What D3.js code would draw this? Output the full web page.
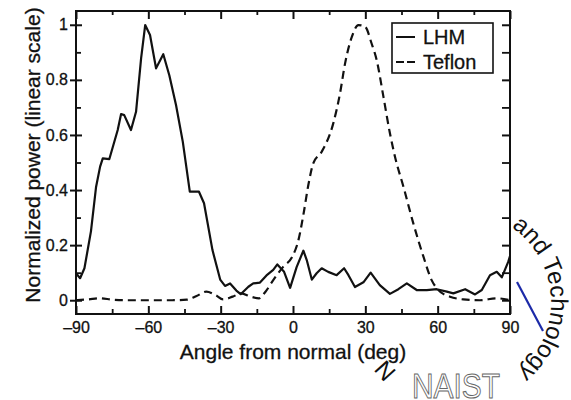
<!DOCTYPE html>
<html>
<head>
<meta charset="utf-8">
<script src="https://cdn.jsdelivr.net/npm/d3@7"></script>
<style>
  body { margin: 0; background: #fff; }
  svg text { font-family: "Liberation Sans", Arial, Helvetica, sans-serif; }
</style>
</head>
<body>
<svg id="chart" width="571" height="400"></svg>
<script>
// values
var lhmAngle = [-90, -88.3, -86.5, -83.8, -81.7, -80, -78.9, -76.2, -72.7, -71.3, -70, -67.2, -65.1, -63, -61.3,
  -59.3, -56.8, -53.8, -51.3, -48.5, -45.7, -42.8, -39, -36.9, -33.4, -30.2, -28.2, -26.1, -23.5, -21.7, -18.5,
  -16.5, -13.7, -11, -8.2, -6.5, -3.7, -1.2, 1.5, 4.3, 5.7, 7.8, 9.8, 11.9, 14.6, 18.1, 21.2, 23, 25.7, 29.2,
  32.2, 36, 40.2, 43.7, 47.2, 51.3, 55.5, 59.6, 63.8, 66.5, 71.4, 75.5, 78.3, 81.7, 84.5, 86.6, 89.3, 90];
var lhmPower = [0.098, 0.08, 0.116, 0.25, 0.41, 0.485, 0.515, 0.512, 0.618, 0.676, 0.672, 0.618, 0.684, 0.878, 0.999,
  0.963, 0.842, 0.893, 0.817, 0.708, 0.575, 0.394, 0.394, 0.352, 0.182, 0.075, 0.052, 0.061, 0.035, 0.022, 0.049,
  0.061, 0.064, 0.09, 0.11, 0.13, 0.103, 0.045, 0.12, 0.18, 0.146, 0.075, 0.098, 0.116, 0.103, 0.091, 0.116, 0.091, 0.048, 0.065,
  0.1, 0.055, 0.023, 0.04, 0.061, 0.037, 0.037, 0.04, 0.031, 0.025, 0.04, 0.021, 0.037, 0.091, 0.103, 0.083, 0.14, 0.16];

var teflonAngle = [-90, -85, -80, -75, -70, -60, -50, -44, -40, -36, -32, -29, -25, -21.5, -17.5, -14.1, -11.4,
  -8.2, -4, -0.5, 2.3, 4.3, 6.4, 8.4, 11.9, 16.7, 19.5, 21.6, 24.4, 27.1, 29.9, 32.6, 34.7, 37.5, 40.2, 42.3,
  45.8, 49.9, 54.1, 57.5, 60.3, 65.1, 70.6, 77.5, 84.5, 90];
var teflonPower = [0, 0.003, 0.007, 0.002, 0, 0, 0, 0.002, 0.015, 0.031, 0.018, 0.003, 0.013, 0.025, 0.013, 0.007, 0.031,
  0.073, 0.122, 0.155, 0.22, 0.31, 0.42, 0.497, 0.539, 0.642, 0.751, 0.86, 0.956, 0.999, 0.993, 0.932, 0.872, 0.739, 0.606, 0.521,
  0.412, 0.279, 0.158, 0.073, 0.037, 0.013, 0.003, 0, 0.007, 0];

var seriesNames = ["LHM", "Teflon"];
var xTicks = [-90, -60, -30, 0, 30, 60, 90];
var xTickLabels = ["\u201390", "\u201360", "\u201330", "0", "30", "60", "90"];
var xMinor = [-75, -45, -15, 15, 45, 75];
var yTicks = [0, 0.2, 0.4, 0.6, 0.8, 1];
var yTickLabels = ["0", "0.2", "0.4", "0.6", "0.8", "1"];
var yMinor = [0.1, 0.3, 0.5, 0.7, 0.9];

var svg = d3.select("#chart");
var plotLeft = 76, plotTop = 11, plotRight = 510, plotBottom = 314;
var ink = "#111";

var x = d3.scaleLinear().domain([-90, 90]).range([plotLeft, plotRight]);
var y = d3.scaleLinear().domain([-0.05, 1.05]).range([plotBottom, plotTop]);

//watermark behind the chart
var cx = 461, cy = 302, r = 90;
function pt(a) { a = a * Math.PI / 180; return [cx + r * Math.cos(a), cy + r * Math.sin(a)]; }
var p0 = pt(-56), p1 = pt(200);
svg.append("defs").append("path")
  .attr("id", "arc")
  .attr("d", "M" + p0[0] + "," + p0[1] + " A" + r + "," + r + " 0 1 1 " + p1[0] + "," + p1[1]);
svg.append("text")
  .attr("font-size", 24)
  .attr("fill", ink)
  .append("textPath")
  .attr("href", "#arc")
  .text("and Technology");
svg.append("text")
  .attr("transform", "translate(385,371) rotate(228)")
  .attr("text-anchor", "middle")
  .attr("dy", "0.35em")
  .attr("font-size", 24)
  .attr("fill", ink)
  .text("N");
svg.append("line")
  .attr("x1", 517).attr("y1", 282).attr("x2", 543).attr("y2", 331)
  .attr("stroke", "#1c2aa8").attr("stroke-width", 2.2);
svg.append("text")
  .attr("x", 412).attr("y", 398)
  .attr("font-size", 35)
  .attr("textLength", 88)
  .attr("lengthAdjust", "spacingAndGlyphs")
  .attr("fill", "#fff")
  .attr("stroke", "#666")
  .attr("stroke-width", 1)
  .text("NAIST");

// axes, ticks pointing in
function addAxis(axis, transform, width) {
  var g = svg.append("g").attr("transform", transform).call(axis);
  g.select(".domain").remove();
  g.selectAll("line").attr("stroke", ink).attr("stroke-width", width);
  g.attr("font-size", 16).attr("font-family", null);
  g.selectAll("text").attr("fill", ink).attr("stroke", ink).attr("stroke-width", 0.3);
  return g;
}
var none = function() { return ""; };

addAxis(d3.axisBottom(x).tickValues(xTicks).tickSize(-8).tickFormat(none), "translate(0," + plotBottom + ")", 2);
addAxis(d3.axisBottom(x).tickValues(xMinor).tickSize(-5).tickFormat(none), "translate(0," + plotBottom + ")", 1.8);
addAxis(d3.axisBottom(x).tickValues(xTicks).tickSize(0).tickPadding(8)
  .tickFormat(function(d, i) { return xTickLabels[i]; }), "translate(0," + plotBottom + ")", 0);

addAxis(d3.axisTop(x).tickValues(xTicks).tickSize(-8).tickFormat(none), "translate(0," + plotTop + ")", 2);
addAxis(d3.axisTop(x).tickValues(xMinor).tickSize(-4).tickFormat(none), "translate(0," + plotTop + ")", 1.8);

addAxis(d3.axisLeft(y).tickValues(yTicks).tickSize(-6).tickFormat(none), "translate(" + plotLeft + ",0)", 2);
addAxis(d3.axisLeft(y).tickValues(yMinor).tickSize(-5).tickFormat(none), "translate(" + plotLeft + ",0)", 1.8);
addAxis(d3.axisLeft(y).tickValues(yTicks).tickSize(6).tickPadding(2)
  .tickFormat(function(d, i) { return yTickLabels[i]; }), "translate(" + plotLeft + ",0)", 2);

addAxis(d3.axisRight(y).tickValues(yTicks).tickSize(-8).tickFormat(none), "translate(" + plotRight + ",0)", 2);
addAxis(d3.axisRight(y).tickValues(yMinor).tickSize(-8).tickFormat(none), "translate(" + plotRight + ",0)", 1.8);

svg.append("clipPath").attr("id", "plotclip")
  .append("rect").attr("x", plotLeft).attr("y", plotTop)
  .attr("width", plotRight - plotLeft).attr("height", plotBottom - plotTop);

var line = d3.line()
  .x(function(d) { return x(d[0]); })
  .y(function(d) { return y(d[1]); });

var plot = svg.append("g").attr("clip-path", "url(#plotclip)");
plot.append("path")
  .datum(d3.zip(teflonAngle, teflonPower))
  .attr("d", line.curve(d3.curveMonotoneX))
  .attr("fill", "none")
  .attr("stroke", ink)
  .attr("stroke-width", 2.2)
  .attr("stroke-dasharray", "8,5");
plot.append("path")
  .datum(d3.zip(lhmAngle, lhmPower))
  .attr("d", line.curve(d3.curveLinear))
  .attr("fill", "none")
  .attr("stroke", ink)
  .attr("stroke-width", 2.2)
  .attr("stroke-linejoin", "round");

// frame
svg.append("rect")
  .attr("x", plotLeft).attr("y", plotTop)
  .attr("width", plotRight - plotLeft).attr("height", plotBottom - plotTop)
  .attr("fill", "none").attr("stroke", ink).attr("stroke-width", 2);

// legend
var legend = svg.append("g");
legend.append("rect")
  .attr("x", 392).attr("y", 23).attr("width", 101).attr("height", 50)
  .attr("fill", "#fff").attr("stroke", ink).attr("stroke-width", 1.6);
seriesNames.forEach(function(name, i) {
  var ly = 37 + i * 25;
  legend.append("line")
    .attr("x1", 396).attr("x2", 415).attr("y1", ly).attr("y2", ly)
    .attr("stroke", ink).attr("stroke-width", 2)
    .attr("stroke-dasharray", i == 1 ? "8,3" : null);
  legend.append("text")
    .attr("x", 423).attr("y", ly + 7)
    .attr("font-size", 20)
    .attr("fill", ink).attr("stroke", ink).attr("stroke-width", 0.3)
    .text(name);
});

// axis titles
svg.append("text")
  .attr("x", (plotLeft + plotRight) / 2).attr("y", 359)
  .attr("text-anchor", "middle")
  .attr("font-size", 21)
  .attr("fill", ink).attr("stroke", ink).attr("stroke-width", 0.3)
  .text("Angle from normal (deg)");
svg.append("text")
  .attr("transform", "translate(40,155) rotate(-90)")
  .attr("text-anchor", "middle")
  .attr("font-size", 21)
  .attr("fill", ink).attr("stroke", ink).attr("stroke-width", 0.3)
  .text("Normalized power (linear scale)");
</script>
</body>
</html>
